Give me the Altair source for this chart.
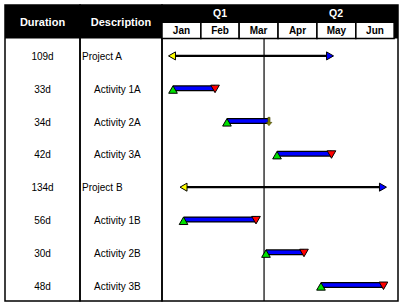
import altair as alt
import pandas as pd

# ---- data ----
labels = ["Project A", "Activity 1A", "Activity 2A", "Activity 3A",
          "Project B", "Activity 1B", "Activity 2B", "Activity 3B"]
durations = ["109d", "33d", "34d", "42d", "134d", "56d", "30d", "48d"]
kinds = ["project", "task", "task", "task", "project", "task", "task", "task"]
starts = [7.7, 8.5, 50.1, 88.7, 16.6, 16.6, 80.2, 122.6]
ends = [129.6, 40.9, 82.5, 130.7, 170.4, 72.5, 109.5, 170.8]
end_marks = ["arrow", "done", "progress", "done", "arrow", "done", "done", "done"]

months = ["Jan", "Feb", "Mar", "Apr", "May", "Jun"]
month_starts = [0, 30, 59.5, 89.5, 119.5, 149.5]
month_ends = [30, 59.5, 89.5, 119.5, 149.5, 179]
quarters = ["Q1", "Q2"]
quarter_starts = [0, 89.5]
quarter_ends = [89.5, 179]
today = [78.7]

tasks = pd.DataFrame({
    "label": labels, "duration": durations, "kind": kinds,
    "start": starts, "end": ends, "endmark": end_marks,
    "row": [i + 0.5 for i in range(len(labels))],
})
mdf = pd.DataFrame({"month": months, "s": month_starts, "e": month_ends})
mdf["mid"] = (mdf["s"] + mdf["e"]) / 2
qdf = pd.DataFrame({"q": quarters, "s": quarter_starts, "e": quarter_ends})
qdf["mid"] = (qdf["s"] + qdf["e"]) / 2
tdf = pd.DataFrame({"day": today})

H = 296
HEAD = 33.5
FONT = "Liberation Sans"

yscale = alt.Scale(domain=[0, 8], range=[HEAD, H], nice=False, zero=False)
xscale = alt.Scale(domain=[0, 182], nice=False, zero=False)
Y = alt.Y("row:Q", scale=yscale, axis=None)


def header(width, title):
    rect = alt.Chart(pd.DataFrame({"a": [0]})).mark_rect(color="black").encode(
        x=alt.value(0), x2=alt.value(width), y=alt.value(0), y2=alt.value(HEAD))
    txt = alt.Chart(pd.DataFrame({"t": [title]})).mark_text(
        font=FONT, fontSize=11, fontWeight="bold", color="white",
        align="center", baseline="middle").encode(
        x=alt.value(width / 2), y=alt.value(17.5), text="t:N")
    return rect + txt


# ---- Duration column ----
W1 = 75
dur_text = alt.Chart(tasks).mark_text(
    font=FONT, fontSize=10, color="black", align="center", baseline="middle", dy=2
).encode(x=alt.value(W1 / 2), y=Y, text="duration:N")
p1 = alt.layer(header(W1, "Duration"), dur_text).properties(width=W1, height=H)

# ---- Description column ----
W2 = 82
desc_proj = alt.Chart(tasks).transform_filter(alt.datum.kind == "project").mark_text(
    font=FONT, fontSize=10, color="black", align="left", baseline="middle", dy=2
).encode(x=alt.value(2), y=Y, text="label:N")
desc_task = alt.Chart(tasks).transform_filter(alt.datum.kind == "task").mark_text(
    font=FONT, fontSize=10, color="black", align="left", baseline="middle", dy=2
).encode(x=alt.value(14), y=Y, text="label:N")
p2 = alt.layer(header(W2, "Description"), desc_proj, desc_task).properties(width=W2, height=H)

# ---- Gantt ----
W3 = 236
X = alt.X("start:Q", scale=xscale, axis=None)
XE = alt.X("end:Q", scale=xscale, axis=None)

head_rect = alt.Chart(pd.DataFrame({"a": [0]})).mark_rect(color="black").encode(
    x=alt.value(0), x2=alt.value(W3), y=alt.value(0), y2=alt.value(HEAD))
month_cells = alt.Chart(mdf).mark_rect(fill="white", stroke="black", strokeWidth=1.5).encode(
    x=alt.X("s:Q", scale=xscale, axis=None), x2="e:Q",
    y=alt.value(17.3), y2=alt.value(HEAD))
month_text = alt.Chart(mdf).mark_text(
    font=FONT, fontSize=10, fontWeight="bold", color="black", baseline="middle"
).encode(x=alt.X("mid:Q", scale=xscale, axis=None), y=alt.value(25.8), text="month:N")
q_text = alt.Chart(qdf).mark_text(
    font=FONT, fontSize=10.5, fontWeight="bold", color="white", baseline="middle"
).encode(x=alt.X("mid:Q", scale=xscale, axis=None), y=alt.value(8.5), text="q:N")

today_rule = alt.Chart(tdf).mark_rule(color="black", strokeWidth=1.2).encode(
    x=alt.X("day:Q", scale=xscale, axis=None), y=alt.value(HEAD), y2=alt.value(H))

proj = alt.Chart(tasks).transform_filter(alt.datum.kind == "project")
task = alt.Chart(tasks).transform_filter(alt.datum.kind == "task")

proj_line = proj.mark_rule(color="black", strokeWidth=2.2, yOffset=1).encode(x=X, x2="end:Q", y=Y)
proj_start = proj.mark_point(shape="triangle-left", filled=True, fill="#ffff00", stroke="black",
                             strokeWidth=1, size=65, opacity=1, yOffset=1).encode(x=X, y=Y)
proj_end = proj.mark_point(shape="triangle-right", filled=True, fill="#0000ff", stroke="black",
                           strokeWidth=1, size=65, opacity=1, yOffset=1).encode(x=XE, y=Y)

bar_out = task.mark_rule(color="black", strokeWidth=6, yOffset=0.5).encode(x=X, x2="end:Q", y=Y)
bar_in = task.mark_rule(color="#0000ff", strokeWidth=3.5, yOffset=0.5).encode(x=X, x2="end:Q", y=Y)
task_start = task.mark_point(shape="triangle-up", filled=True, fill="#00e000", stroke="black",
                             strokeWidth=1, size=75, opacity=1, yOffset=1.8).encode(x=X, y=Y)
task_end = task.transform_filter(alt.datum.endmark == "done").mark_point(
    shape="triangle-down", filled=True, fill="#ff0000", stroke="black",
    strokeWidth=1, size=75, opacity=1, yOffset=1.2).encode(x=XE, y=Y)
task_prog = task.transform_filter(alt.datum.endmark == "progress").mark_point(
    shape="M-0.25,-1L0.25,-1L0.25,0.2L0.7,0.2L0,1L-0.7,0.2L-0.25,0.2Z",
    filled=True, fill="#808000", stroke="#404000", strokeWidth=0.6, size=70, opacity=1,
    yOffset=1).encode(x=XE, y=Y)

p3 = alt.layer(head_rect, month_cells, month_text, q_text, today_rule,
               proj_line, proj_start, proj_end,
               bar_out, bar_in, task_start, task_end, task_prog).properties(width=W3, height=H)

chart = alt.hconcat(p1, p2, p3, spacing=0, bounds="flush").properties(
    padding={"left": 4, "top": 4, "right": 0, "bottom": 0},
    background="white",
).configure_view(stroke="black", strokeWidth=1.5)

chart.save("out.html", embed_options={"renderer": "svg", "actions": False})
